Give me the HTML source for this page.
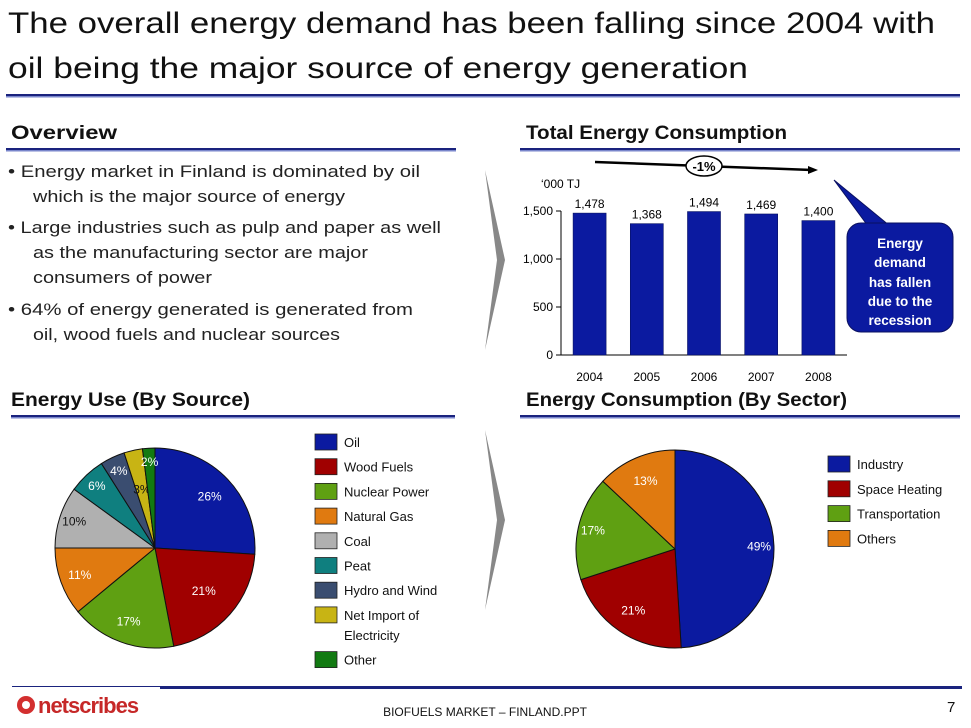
<!DOCTYPE html>
<html><head><meta charset="utf-8"><style>
body{margin:0;background:#fff;}
svg{display:block;font-family:"Liberation Sans",sans-serif;}
</style></head><body>
<svg id="s" width="971" height="728" viewBox="0 0 971 728" xmlns="http://www.w3.org/2000/svg">
<g font-size="30" fill="#111">
<text x="8" y="33" textLength="927" lengthAdjust="spacingAndGlyphs">The overall energy demand has been falling since 2004 with</text>
<text x="8" y="78" textLength="740" lengthAdjust="spacingAndGlyphs">oil being the major source of energy generation</text>
</g>
<rect x="6" y="94" width="954" height="2" fill="#1a237e"/>
<rect x="6" y="96" width="954" height="1.5" fill="#7986cb"/>

<g font-weight="bold" font-size="19" fill="#111">
<text x="11" y="139" textLength="106" lengthAdjust="spacingAndGlyphs">Overview</text>
<text x="526" y="139" textLength="261" lengthAdjust="spacingAndGlyphs">Total Energy Consumption</text>
<text x="11" y="406" textLength="239" lengthAdjust="spacingAndGlyphs">Energy Use (By Source)</text>
<text x="526" y="406" textLength="321" lengthAdjust="spacingAndGlyphs">Energy Consumption (By Sector)</text>
</g>
<g>
<rect x="6" y="148" width="450" height="2" fill="#1a237e"/><rect x="6" y="150" width="450" height="1.5" fill="#7986cb"/>
<rect x="520" y="148" width="440" height="2" fill="#1a237e"/><rect x="520" y="150" width="440" height="1.5" fill="#7986cb"/>
<rect x="11" y="415" width="444" height="2" fill="#1a237e"/><rect x="11" y="417" width="444" height="1.5" fill="#7986cb"/>
<rect x="520" y="415" width="440" height="2" fill="#1a237e"/><rect x="520" y="417" width="440" height="1.5" fill="#7986cb"/>
</g>

<g font-size="17" fill="#222" lengthAdjust="spacingAndGlyphs">
<text x="8" y="177" textLength="412" lengthAdjust="spacingAndGlyphs">• Energy market in Finland is dominated by oil</text>
<text x="33" y="202" textLength="312" lengthAdjust="spacingAndGlyphs">which is the major source of energy</text>
<text x="8" y="233" textLength="433" lengthAdjust="spacingAndGlyphs">• Large industries such as pulp and paper as well</text>
<text x="33" y="258" textLength="335" lengthAdjust="spacingAndGlyphs">as the manufacturing sector are major</text>
<text x="33" y="283" textLength="179" lengthAdjust="spacingAndGlyphs">consumers of power</text>
<text x="8" y="315" textLength="405" lengthAdjust="spacingAndGlyphs">• 64% of energy generated is generated from</text>
<text x="33" y="340" textLength="307" lengthAdjust="spacingAndGlyphs">oil, wood fuels and nuclear sources</text>
</g>

<polygon points="485,170 505,260 485,350 497,260" fill="#888"/>
<polygon points="485,430 505,520 485,610 497,520" fill="#888"/>

<g id="bar"></g>
<g>
<line x1="595" y1="162" x2="812" y2="170" stroke="#000" stroke-width="2.5"/>
<polygon points="818,170 808,166 808,174" fill="#000"/>
<ellipse cx="704" cy="166" rx="18" ry="10" fill="#fff" stroke="#000" stroke-width="1.5"/>
<text x="704" y="171" font-size="13" font-weight="bold" text-anchor="middle">-1%</text>
</g>
<g>
<polygon points="834,180 890,226 868,226" fill="#0b1aa0" stroke="#0a1060" stroke-width="1"/>
<rect x="847" y="223" width="106" height="109" rx="14" fill="#0b1aa0" stroke="#0a1060" stroke-width="1"/>
<g font-size="13.5" font-weight="bold" fill="#fff" text-anchor="middle">
<text x="900" y="248">Energy</text><text x="900" y="267">demand</text><text x="900" y="287">has fallen</text><text x="900" y="306">due to the</text><text x="900" y="325">recession</text>
</g>
</g>

<g id="pie1"></g>
<g id="leg1"></g>
<g id="pie2"></g>
<g id="leg2"></g>

<rect x="12" y="686" width="950" height="1" fill="#1a237e"/>
<rect x="160" y="686" width="802" height="3" fill="#1a237e"/>
<g>
<circle cx="26" cy="705" r="9" fill="#d32f2f"/><circle cx="26" cy="705" r="4" fill="#fff"/>
<text x="38" y="713" font-size="22" font-weight="bold" fill="#c62828" letter-spacing="-1">netscribes</text>
</g>
<text x="485" y="716" font-size="12" text-anchor="middle" fill="#111">BIOFUELS MARKET – FINLAND.PPT</text>
<text x="947" y="712" font-size="15" fill="#111">7</text>
</svg>
<script>
const years=["2004","2005","2006","2007","2008"];
const demand=[1478,1368,1494,1469,1400];
const yTicks=[0,500,1000,1500];
const yTickLabels=["0","500","1,000","1,500"];
const valueLabels=["1,478","1,368","1,494","1,469","1,400"];
const srcNames=["Oil","Wood Fuels","Nuclear Power","Natural Gas","Coal","Peat","Hydro and Wind","Net Import of Electricity","Other"];
const srcVals=[26,21,17,11,10,6,4,3,2];
const srcColors=["#0b1aa0","#a00000","#5fa012","#e07a10","#b0b0b0","#0f7f7f","#3a4d70","#c8b414","#127a12"];
const secNames=["Industry","Space Heating","Transportation","Others"];
const secVals=[49,21,17,13];
const secColors=["#0b1aa0","#a00000","#5fa012","#e07a10"];
const NS="http://www.w3.org/2000/svg";
function mk(p,t,a,txt){const e=document.createElementNS(NS,t);for(const k in a)e.setAttribute(k,a[k]);if(txt!=null)e.textContent=txt;p.appendChild(e);return e;}
const bar=document.getElementById('bar');
const x0=561,x1=847,base=355,top1500=211;
const y=v=>base-(v/1500)*(base-top1500);
const band=(x1-x0)/years.length;
const xc=i=>x0+band*(i+0.5);
mk(bar,'line',{x1:x0,y1:base,x2:x1,y2:base,stroke:'#000','stroke-width':1});
mk(bar,'line',{x1:x0,y1:y(1500),x2:x0,y2:base,stroke:'#000','stroke-width':1});
mk(bar,'text',{x:541,y:188,'font-size':12},"‘000 TJ");
yTicks.forEach((t,i)=>{
 mk(bar,'line',{x1:x0-5,y1:y(t),x2:x0,y2:y(t),stroke:'#000'});
 const l=mk(bar,'text',{x:x0-8,y:y(t)+4,'font-size':12,'text-anchor':'end'},yTickLabels[i]);
 
 
});
demand.forEach((v,i)=>{
 const r=mk(bar,'rect',{x:xc(i)-16.5,y:y(v),width:33,height:base-y(v),fill:'#0b1aa0',stroke:'#061060','stroke-width':0.6});
 
 
 const vl=mk(bar,'text',{x:xc(i),y:y(v)-5,'font-size':12,'text-anchor':'middle'},valueLabels[i]);
 
 
 const xl=mk(bar,'text',{x:xc(i),y:base+26,'font-size':12,'text-anchor':'middle'},years[i]);
 
 
});
function pie(g,cx,cy,r,vals,cols,lblCol,lr){
 let a=0;const tot=vals.reduce((s,v)=>s+v,0);
 vals.forEach((v,i)=>{
  const a0=a/tot*2*Math.PI,a1=(a+v)/tot*2*Math.PI;a+=v;
  const p=(t)=>[cx+r*Math.sin(t),cy-r*Math.cos(t)];
  const [sx,sy]=p(a0),[ex,ey]=p(a1);
  const s=mk(g,'path',{d:`M${cx},${cy}L${sx},${sy}A${r},${r} 0 ${a1-a0>Math.PI?1:0} 1 ${ex},${ey}Z`,fill:cols[i],stroke:'#111','stroke-width':1});
  
  
  const m=(a0+a1)/2,rr=r*(lr[i]||0.7);
  const t=mk(g,'text',{x:cx+rr*Math.sin(m),y:cy-rr*Math.cos(m)+4,'font-size':12,'text-anchor':'middle',fill:lblCol[i]},v+'%');
  
  
 });
}
pie(document.getElementById('pie1'),155,548,100,srcVals,srcColors,["#fff","#fff","#fff","#fff","#111","#fff","#fff","#111","#fff"],[0.75,0.65,0.78,0.8,0.85,0.85,0.85,0.6,0.86]);
pie(document.getElementById('pie2'),675,549,99,secVals,secColors,["#fff","#fff","#fff","#fff"],[0.85,0.75,0.85,0.75]);
function legend(g,x,y0,step,names,cols,fs){
 let yy=y0;
 names.forEach((n,i)=>{
  const sw=mk(g,'rect',{x:x,y:yy,width:22,height:16,fill:cols[i],stroke:'#222','stroke-width':0.8});
  
  
  const parts=n==="Net Import of Electricity"?["Net Import of","Electricity"]:[n];
  parts.forEach((p,j)=>{
   const t=mk(g,'text',{x:x+29,y:yy+13+j*20,'font-size':fs,fill:'#111'},p);
   
   
  });
  yy+=step+(parts.length-1)*20;
 });
}
legend(document.getElementById('leg1'),315,434,24.7,srcNames,srcColors,13);
legend(document.getElementById('leg2'),828,456,24.8,secNames,secColors,13);
</script>
</body></html>
